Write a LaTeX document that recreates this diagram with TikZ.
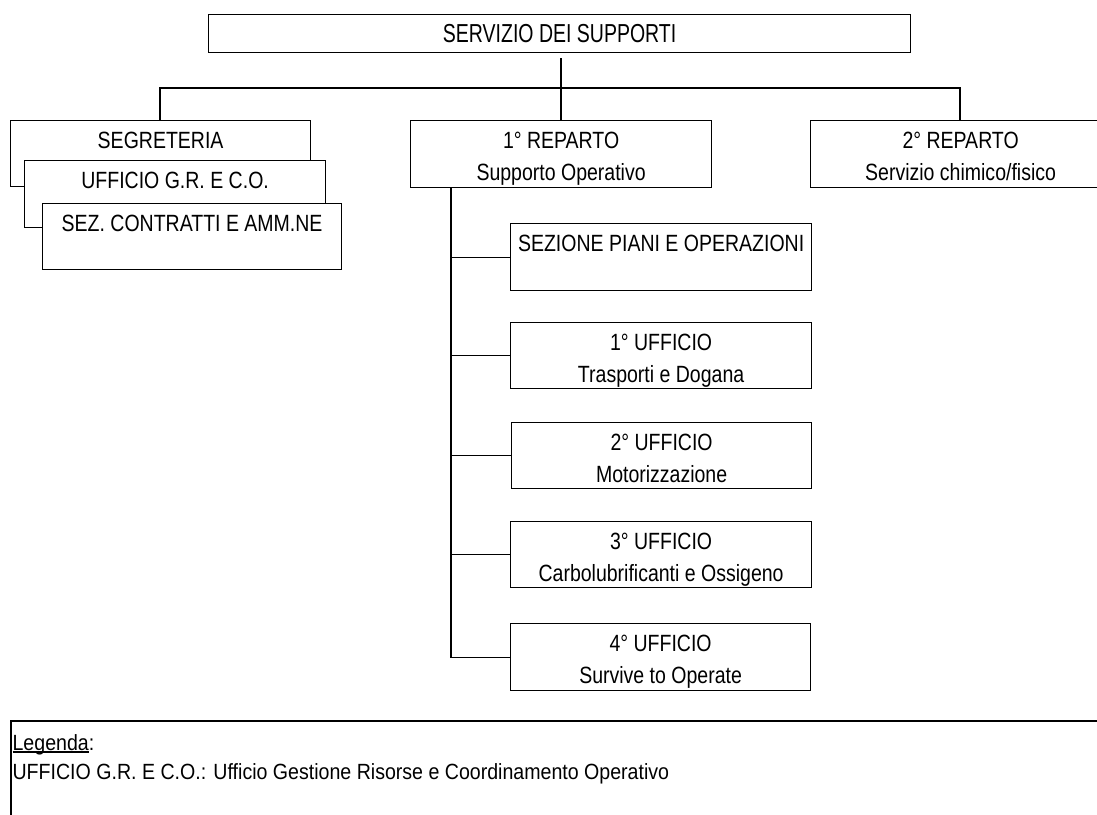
\documentclass[tikz,border=0pt]{standalone}
\usepackage{fontspec}
\setmainfont{Liberation Sans}[FakeStretch=0.83]
\newfontfamily\headfont{Liberation Sans}[FakeStretch=0.75]
\newfontfamily\legendfont{Liberation Sans}[FakeStretch=0.89]
% two centred lines whose baseline is the first line's
\newcommand\twolines[2]{\vtop{\halign{\hfil##\hfil\cr#1\cr#2\cr}}}
% underline sitting just under the baseline
\newcommand\legendul[1]{\setbox0\hbox{#1}\rlap{\rule[-2.5pt]{\wd0}{1.1pt}}\box0}
\begin{document}
\begin{tikzpicture}[x=1pt,y=-1pt,line width=1.2pt,
  unit/.style={draw=black,fill=white,anchor=north west,inner sep=0pt,
    minimum width=300pt,text height=27.5pt,text depth=38.5pt,
    font=\fontsize{23.5}{32}\selectfont},
  tall/.style={text depth=39.5pt},
  link/.style={draw=black,line width=1.2pt},
  legendtext/.style={anchor=base west,inner sep=0pt,font=\legendfont\fontsize{22}{29}\selectfont}]
\useasboundingbox (0,0) rectangle (1097,814);

% head of the service
\node[unit,minimum width=702pt,text height=28pt,text depth=10pt,
  font=\headfont\fontsize{26}{32}\selectfont] (head) at (208,14) {SERVIZIO DEI SUPPORTI};

% staff offices, stacked
\node[unit] (seg) at (10,120) {SEGRETERIA};
\node[unit,tall,minimum width=301pt] (ugr) at (24,160) {UFFICIO G.R. E C.O.};
\node[unit,minimum width=299pt] (sez) at (42,203) {SEZ. CONTRATTI E AMM.NE};

% departments
\node[unit,tall,minimum width=301pt] (rep1) at (410,120) {\twolines{1° REPARTO}{Supporto Operativo}};
\node[unit,tall] (rep2) at (810,120) {\twolines{2° REPARTO}{Servizio chimico/fisico}};

% offices of the 1st department
\node[unit,tall,minimum width=301pt] (spo) at (510,223) {SEZIONE PIANI E OPERAZIONI};
\node[unit,minimum width=301pt] (uf1) at (510,322) {\twolines{1° UFFICIO}{Trasporti e Dogana}};
\node[unit] (uf2) at (511,422) {\twolines{2° UFFICIO}{Motorizzazione}};
\node[unit,minimum width=301pt] (uf3) at (510,521) {\twolines{3° UFFICIO}{Carbolubrificanti e Ossigeno}};
\node[unit,tall] (uf4) at (510,623) {\twolines{4° UFFICIO}{Survive to Operate}};

% top-level connectors
\coordinate (t0) at (561,58);
\coordinate (busL) at (160,88);
\coordinate (busR) at (960,88);
\draw[link] (t0) -- (t0 |- rep1.north);
\draw[link] (busL |- seg.north) -- (busL) -- (busR) -- (busR |- rep2.north);

% spine under the 1st department
\coordinate (sp) at (451,0);
\draw[link] (sp |- rep1.south) -- (sp |- uf4.west) -- (uf4.west);
\draw[link] (sp |- spo.west) -- (spo.west);
\draw[link] (sp |- uf1.west) -- (uf1.west);
\draw[link] (sp |- uf2.west) -- (uf2.west);
\draw[link] (sp |- uf3.west) -- (uf3.west);

% legend frame
\coordinate (lg) at (11,721);
\draw[link] (1100,721) -- (lg) -- (11,817);
\node[legendtext] (lg1) at (12,750) {\legendul{Legenda}:};
\node[legendtext] (lg2) at (12,779) {UFFICIO G.R. E C.O.: Ufficio Gestione Risorse e Coordinamento Operativo};
\end{tikzpicture}
\end{document}
